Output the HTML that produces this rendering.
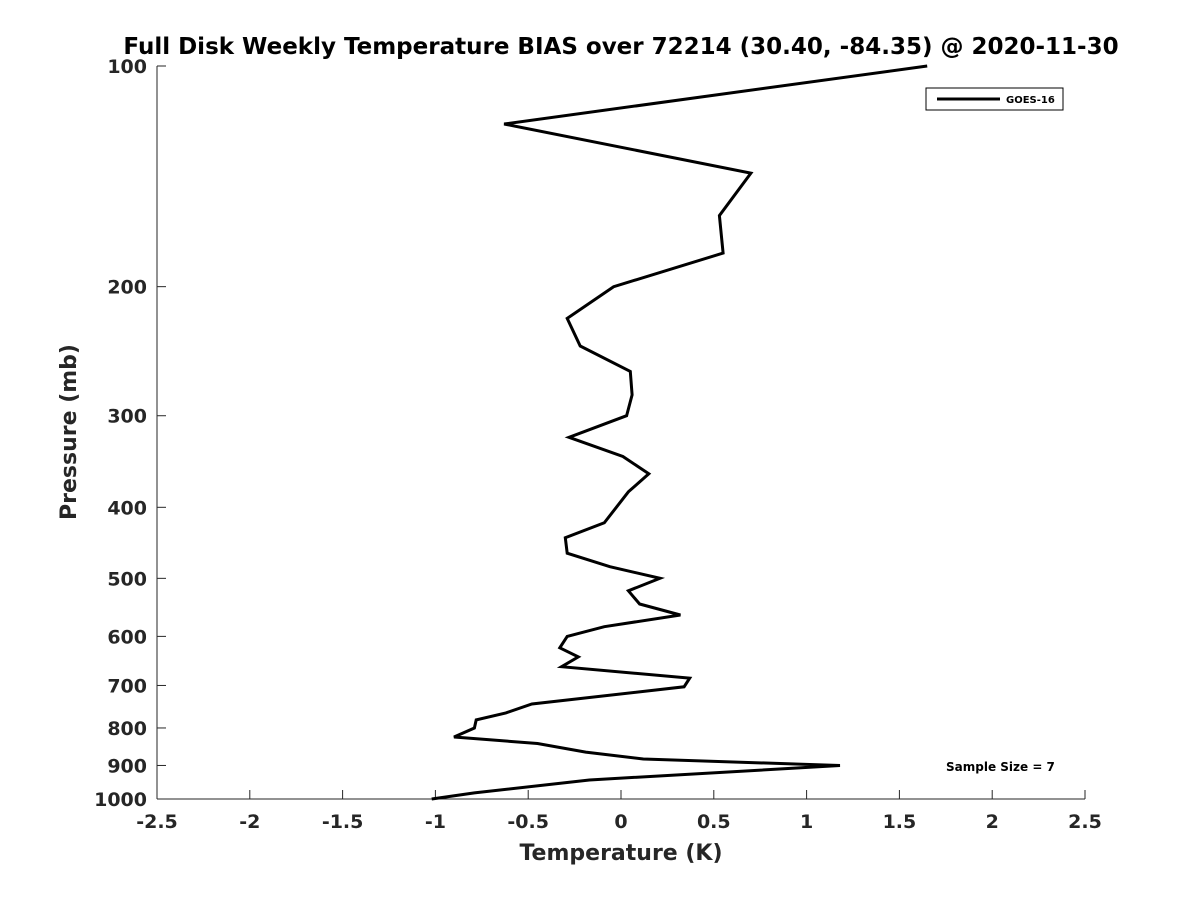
<!DOCTYPE html>
<html><head><meta charset="utf-8">
<style>
html,body{margin:0;padding:0;background:#fff;}
svg text{font-family:"DejaVu Sans","Liberation Sans",sans-serif;font-weight:bold;fill:#262626;}
</style></head>
<body>
<svg id="chart" width="1200" height="900" viewBox="0 0 1200 900" xmlns="http://www.w3.org/2000/svg">
<rect width="1200" height="900" fill="#fff"/>
<text x="621" y="54" text-anchor="middle" font-size="23" style="fill:#000">Full Disk Weekly Temperature BIAS over 72214 (30.40, -84.35) @ 2020-11-30</text>
<g id="axes"></g>
<path id="series" fill="none" stroke="#000" stroke-width="3" stroke-linejoin="miter"/>
<g>
<rect x="926" y="88" width="137" height="22" fill="#fff" stroke="#000" stroke-width="1"/>
<line x1="937" y1="99" x2="1000" y2="99" stroke="#000" stroke-width="3"/>
<text x="1006" y="103" font-size="10" style="fill:#000">GOES-16</text>
</g>
<text x="946" y="771" font-size="12" style="fill:#000">Sample Size = 7</text>
<text x="621" y="860" text-anchor="middle" font-size="22">Temperature (K)</text>
<text transform="translate(76,432) rotate(-90)" text-anchor="middle" font-size="22">Pressure (mb)</text>
</svg>
<script>
const pressures=[100,120,140,160,180,200,221,241,261,281,300,321,341,360,381,420,440,462,482,500,520,542,561,582,600,622,640,660,684,703,742,763,780,800,823,840,863,882,900,942,981,1000];
const temps=[1.65,-0.63,0.70,0.53,0.55,-0.04,-0.29,-0.22,0.05,0.06,0.03,-0.28,0.01,0.15,0.04,-0.09,-0.30,-0.29,-0.06,0.21,0.04,0.10,0.32,-0.09,-0.29,-0.33,-0.23,-0.32,0.37,0.34,-0.48,-0.62,-0.78,-0.79,-0.90,-0.45,-0.19,0.12,1.18,-0.17,-0.79,-1.02];
const xTicks=[-2.5,-2,-1.5,-1,-0.5,0,0.5,1,1.5,2,2.5];
const yTicks=[100,200,300,400,500,600,700,800,900,1000];
const X0=157,X1=1085,Y0=66,Y1=799;
function xs(v){return X0+(v+2.5)/5*(X1-X0);}
function ys(p){return Y0+(Math.log10(p)-2)*(Y1-Y0);}
const ns="http://www.w3.org/2000/svg";
const axes=document.getElementById('axes');
function mk(tag,attrs){const e=document.createElementNS(ns,tag);for(const k in attrs)e.setAttribute(k,attrs[k]);return e;}
const xl=mk('line',{x1:X0,y1:Y1,x2:X1,y2:Y1,stroke:'#262626','stroke-width':1});


axes.appendChild(xl);
const yl=mk('line',{x1:X0,y1:Y0,x2:X0,y2:Y1,stroke:'#262626','stroke-width':1});


axes.appendChild(yl);
xTicks.forEach(t=>{
  const x=xs(t);
  const tk=mk('line',{x1:x,y1:Y1,x2:x,y2:Y1-9,stroke:'#262626','stroke-width':1});
  
  
  axes.appendChild(tk);
  const lb=mk('text',{x:x,y:Y1+29,'text-anchor':'middle','font-size':19});
  
  
  lb.textContent=String(t);
  axes.appendChild(lb);
});
yTicks.forEach(p=>{
  const y=ys(p);
  const tk=mk('line',{x1:X0,y1:y,x2:X0+9,y2:y,stroke:'#262626','stroke-width':1});
  
  
  axes.appendChild(tk);
  const lb=mk('text',{x:X0-10,y:y+7,'text-anchor':'end','font-size':19});
  
  
  lb.textContent=String(p);
  axes.appendChild(lb);
});
let d='';
pressures.forEach((p,i)=>{d+=(i?'L':'M')+xs(temps[i]).toFixed(1)+' '+ys(p).toFixed(1)+' ';});
document.getElementById('series').setAttribute('d',d);
</script>
</body></html>
